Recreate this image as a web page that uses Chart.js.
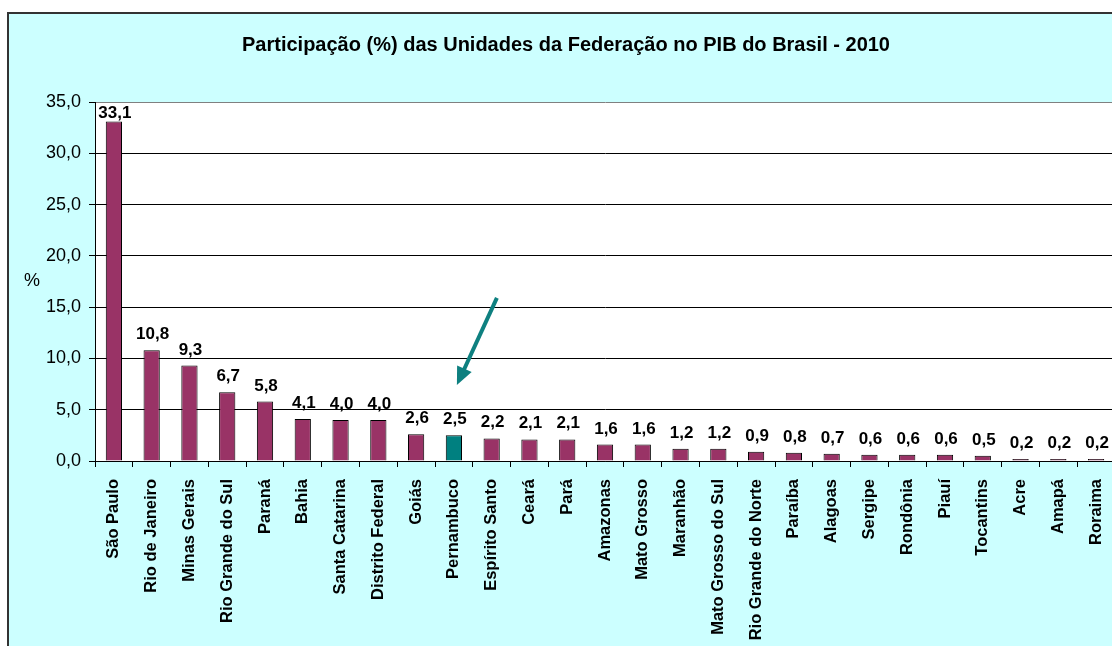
<!DOCTYPE html>
<html>
<head>
<meta charset="utf-8">
<script src="https://cdn.jsdelivr.net/npm/chart.js@4"></script>
<style>
  html, body { margin: 0; padding: 0; overflow: hidden; background: #fff; }
  #frame { position: absolute; left: 7px; top: 12px; width: 1200px; height: 700px;
           border: 2px solid #333; background: #ccffff; }
  #grafico { position: absolute; left: 0; top: 0; }
</style>
</head>
<body>
<div id="frame"></div>
<canvas id="grafico" width="1120" height="646"></canvas>
<script>
const estados = ['São Paulo', 'Rio de Janeiro', 'Minas Gerais', 'Rio Grande do Sul', 'Paraná', 'Bahia',
  'Santa Catarina', 'Distrito Federal', 'Goiás', 'Pernambuco', 'Espírito Santo', 'Ceará', 'Pará',
  'Amazonas', 'Mato Grosso', 'Maranhão', 'Mato Grosso do Sul', 'Rio Grande do Norte', 'Paraíba',
  'Alagoas', 'Sergipe', 'Rondônia', 'Piauí', 'Tocantins', 'Acre', 'Amapá', 'Roraima']
const participacao = [33.1, 10.8, 9.3, 6.7, 5.8, 4.1, 4.0, 4.0, 2.6, 2.5, 2.2, 2.1, 2.1,
  1.6, 1.6, 1.2, 1.2, 0.9, 0.8, 0.7, 0.6, 0.6, 0.6, 0.5, 0.2, 0.2, 0.2]
const destaque = 'Pernambuco'
const titulo = 'Participação (%) das Unidades da Federação no PIB do Brasil - 2010'

const FONTE = "'Liberation Sans', Arial, sans-serif"
const virgula = v => v.toFixed(1).replace('.', ',')

// fundo branco da area de plotagem, titulo, "%" e seta
const extras = {
  id: 'extras',
  beforeDraw(chart) {
    const {ctx, chartArea: a} = chart
    ctx.save()
    ctx.fillStyle = '#ffffff'
    ctx.fillRect(a.left, a.top, a.right - a.left, a.bottom - a.top)
    ctx.fillStyle = '#000'
    ctx.font = 'bold 20px ' + FONTE
    ctx.textAlign = 'center'
    ctx.textBaseline = 'middle'
    ctx.fillText(titulo, 566, 45)
    ctx.font = '18px ' + FONTE
    ctx.fillText('%', 32, (a.top + a.bottom) / 2)
    ctx.restore()
  },
  afterDatasetsDraw(chart) {
    const {ctx, chartArea: a} = chart
    const meta = chart.getDatasetMeta(0)
    ctx.save()
    ctx.fillStyle = '#000'
    ctx.font = 'bold 17px ' + FONTE
    ctx.textAlign = 'center'
    ctx.textBaseline = 'alphabetic'
    meta.data.forEach((bar, i) => {
      const y = Math.max(bar.y - 11, a.top + 16)
      ctx.fillText(virgula(participacao[i]), bar.x + 1, y)
    })
    // seta apontando para Pernambuco
    const alvo = meta.data[estados.indexOf(destaque)]
    const ys = chart.scales.y
    const x0 = alvo.x + 43, y0 = ys.getPixelForValue(15.9)
    const x1 = alvo.x + 3, y1 = ys.getPixelForValue(7.4)
    const ang = Math.atan2(y1 - y0, x1 - x0)
    const ponta = 18
    ctx.strokeStyle = '#0e8080'
    ctx.fillStyle = '#0e8080'
    ctx.lineWidth = 4
    ctx.beginPath()
    ctx.moveTo(x0, y0)
    ctx.lineTo(x1 - Math.cos(ang) * ponta * 0.8, y1 - Math.sin(ang) * ponta * 0.8)
    ctx.stroke()
    ctx.beginPath()
    ctx.moveTo(x1, y1)
    ctx.lineTo(x1 - Math.cos(ang) * ponta + Math.sin(ang) * 8, y1 - Math.sin(ang) * ponta - Math.cos(ang) * 8)
    ctx.lineTo(x1 - Math.cos(ang) * ponta - Math.sin(ang) * 8, y1 - Math.sin(ang) * ponta + Math.cos(ang) * 8)
    ctx.closePath()
    ctx.fill()
    ctx.restore()
  }
}

const config = {
  type: 'bar',
  data: {
    labels: estados,
    datasets: [{
      data: participacao,
      backgroundColor: estados.map(e => e === destaque ? '#008080' : '#993366'),
      borderColor: '#000',
      borderWidth: 1,
      barPercentage: 0.43,
      categoryPercentage: 1
    }]
  },
  options: {
    responsive: false,
    animation: false,
    layout: { padding: { top: 102, right: 5, left: 0, bottom: 0 } },
    plugins: {
      legend: { display: false },
      tooltip: { enabled: false }
    },
    scales: {
      x: {
        afterFit(scale) {
          scale.height = 185
          scale.paddingLeft = 0
          scale.paddingRight = 0
        },
        grid: { display: true, drawOnChartArea: false, offset: true, tickLength: 6, color: '#000' },
        border: { color: '#000', width: 1 },
        ticks: {
          autoSkip: false, minRotation: 90, maxRotation: 90, padding: 12,
          color: '#000', font: { family: FONTE, size: 16.5, weight: 'bold' }
        }
      },
      y: {
        min: 0, max: 35,
        afterFit(scale) { scale.width = 95 },
        grid: {
          color: c => c.tick && c.tick.value === 35 ? '#808080' : '#000',
          tickColor: '#000', tickLength: 6
        },
        border: { color: '#000', width: 1 },
        ticks: {
          stepSize: 5, padding: 8, color: '#000',
          font: { family: FONTE, size: 18 },
          callback: v => virgula(v)
        }
      }
    }
  },
  plugins: [extras]
}

let meuGrafico = new Chart(document.getElementById('grafico'), config)
</script>
</body>
</html>
